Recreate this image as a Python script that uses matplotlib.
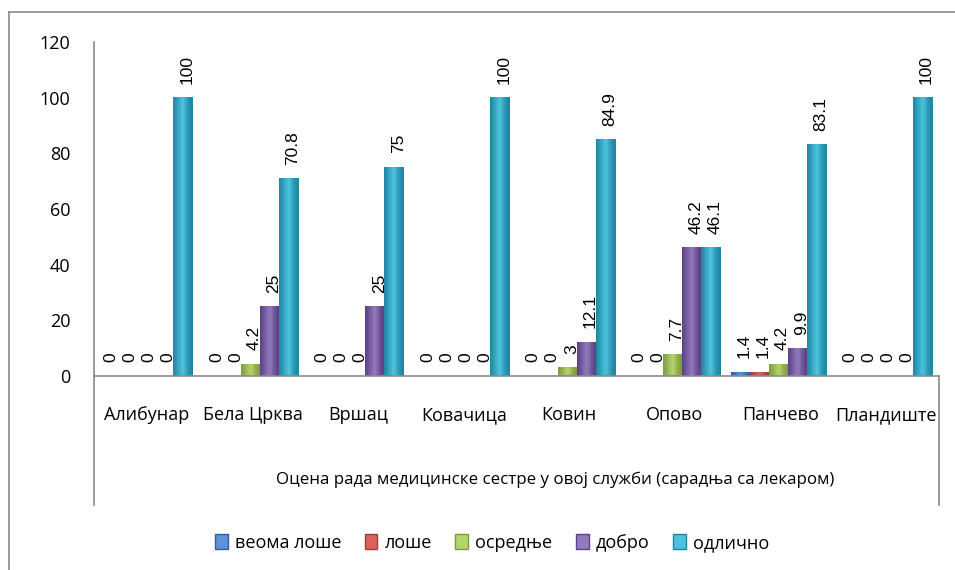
import numpy as np
import matplotlib
matplotlib.use("Agg")
import matplotlib.pyplot as plt
from matplotlib.colors import LinearSegmentedColormap
from matplotlib.lines import Line2D
from matplotlib.patches import Patch

plt.rcParams['font.family'] = ['Open Sans', 'DejaVu Sans']

W, H = 955, 570

categories = ["Алибунар", "Бела Црква", "Вршац", "Ковачица", "Ковин", "Опово", "Панчево", "Пландиште"]
series_names = ["веома лоше", "лоше", "осредње", "добро", "одлично"]

veoma_lose = [0, 0, 0, 0, 0, 0, 1.4, 0]
lose = [0, 0, 0, 0, 0, 0, 1.4, 0]
osrednje = [0, 4.2, 0, 0, 3, 7.7, 4.2, 0]
dobro = [0, 25, 25, 0, 12.1, 46.2, 9.9, 0]
odlicno = [100, 70.8, 75, 100, 84.9, 46.1, 83.1, 100]

series = [veoma_lose, lose, osrednje, dobro, odlicno]

# (dark edge, light centre) for the shaded bars
shades = [("#2E5F9E", "#5A93D6"),
          ("#9E3B38", "#D9625E"),
          ("#7F9A3E", "#B5D46A"),
          ("#5B4182", "#9379BF"),
          ("#1E86A3", "#4CC3DE")]

yticks = [0, 20, 40, 60, 80, 100, 120]


def px(x, y):
    # pixel coords (from top-left) -> figure fraction
    return x / W, 1 - y / H


fig = plt.figure(figsize=(W / 100, H / 100), dpi=100)
ax = fig.add_axes([94 / W, 1 - 376 / H, 845 / W, 334 / H])

x = np.arange(len(categories))
bw = 0.18
shift = -0.02
grad = np.concatenate([np.linspace(0, 1, 20), np.linspace(1, 0, 20) ** 1.6]).reshape(1, -1)

for i, (vals, (dark, light)) in enumerate(zip(series, shades)):
    cmap = LinearSegmentedColormap.from_list(f"s{i}", [dark, light])
    pos = x + shift + (i - 2) * bw
    for xc, v in zip(pos, vals):
        if v > 0:
            ax.imshow(grad, cmap=cmap, extent=[xc - bw / 2, xc + bw / 2, 0, v],
                      aspect='auto', zorder=2, interpolation='bicubic')
        ax.annotate(f"{v:g}", (xc, v), xytext=(3, 10), textcoords='offset points',
                    rotation=90, ha='center', va='bottom', fontsize=12.5,
                    family='Liberation Sans', color='black', zorder=3)

ax.set_xlim(-0.5, len(categories) - 0.5)
ax.set_ylim(0, 120)
ax.set_yticks(yticks)
ax.set_yticklabels([str(t) for t in yticks], fontsize=13)
ax.tick_params(axis='y', length=0, pad=17)
ax.set_xticks([])

for s in ['top', 'right']:
    ax.spines[s].set_visible(False)
for s in ['left', 'bottom']:
    ax.spines[s].set_color('#8A8A8A')
    ax.spines[s].set_linewidth(1.2)

# category labels
for xi, name in zip(x, categories):
    ax.text(xi, -(420 - 376) / 334, name, transform=ax.get_xaxis_transform(),
            ha='center', va='baseline', fontsize=13)

# multi-level axis lines
for xl in (94, 939):
    x0, y0 = px(xl, 376)
    x1, y1 = px(xl, 505)
    fig.add_artist(Line2D([x0, x1], [y0, y1], color='#8A8A8A', lw=1.2))

tx, ty = px(555, 484)
fig.text(tx, ty, "Оцена рада медицинске сестре у овој служби (сарадња са лекаром)",
         ha='center', va='baseline', fontsize=12.2)

# outer chart border (clipped by the image edges)
a = px(9, 12)
fig.add_artist(Line2D([a[0], a[0]], [a[1], 0], color='#8A8A8A', lw=1.2))
fig.add_artist(Line2D([a[0], 1], [a[1], a[1]], color='#8A8A8A', lw=1.2))

handles = [Patch(facecolor=l, edgecolor=d, label=n) for (d, l), n in zip(shades, series_names)]
lx, ly = px(492, 543)
fig.legend(handles=handles, loc='center', bbox_to_anchor=(lx, ly), ncol=5, frameon=False,
           fontsize=13, handlelength=0.7, handleheight=0.9, handletextpad=0.4,
           columnspacing=1.3)

fig.savefig("out.png", dpi=100)
